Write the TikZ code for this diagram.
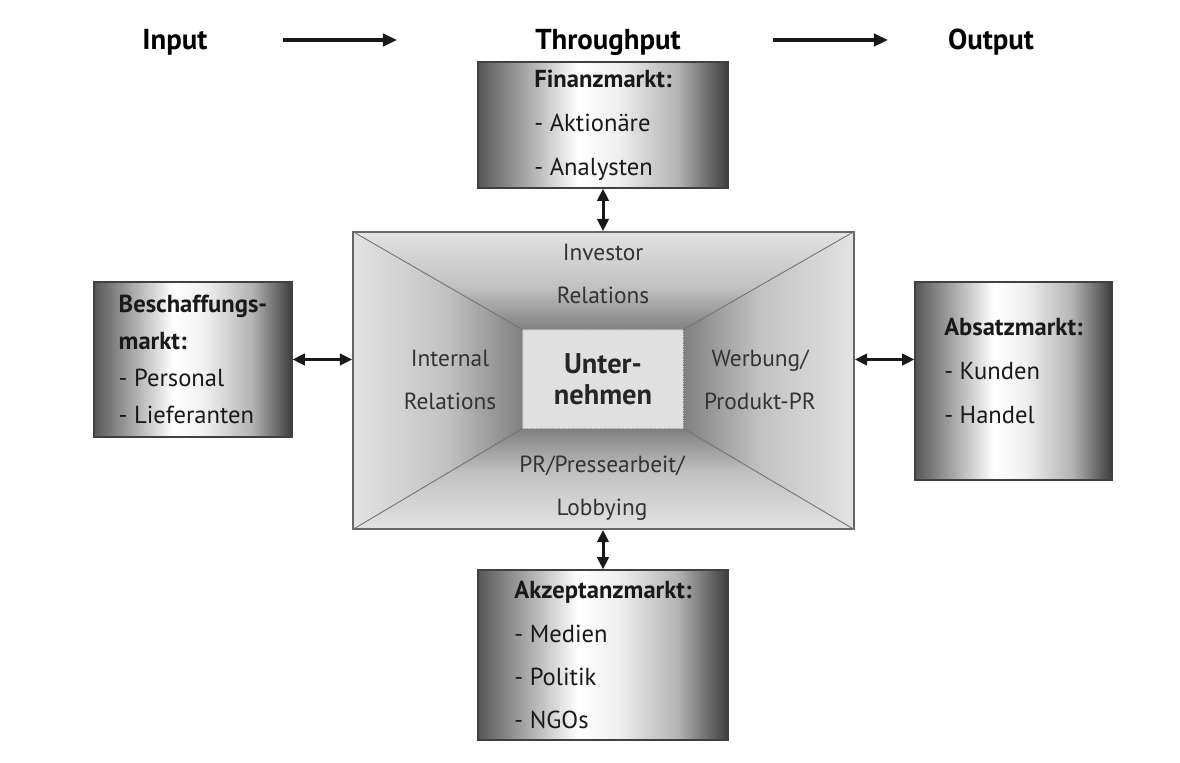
\documentclass[tikz,border=0pt]{standalone}
\usepackage{fontspec}
\setmainfont{PT Sans}
\usetikzlibrary{arrows.meta,backgrounds}
\colorlet{mkL}{black!66}
\colorlet{mkR}{black!76}
\colorlet{mkM}{black!30}
\colorlet{wDark}{black!50}
\colorlet{wMid}{black!24}
\colorlet{wLight}{black!11}
\pgfdeclarehorizontalshading{marketshade}{100bp}{color(0bp)=(mkL); color(25bp)=(mkL); color(45bp)=(white); color(53bp)=(white!94!black); color(65bp)=(mkM); color(75bp)=(mkR); color(100bp)=(mkR)}
\pgfdeclareverticalshading{wallT}{100bp}{color(0bp)=(wDark); color(25bp)=(wDark); color(47bp)=(wMid); color(75bp)=(wLight); color(100bp)=(wLight)}
\pgfdeclareverticalshading{wallB}{100bp}{color(0bp)=(wLight); color(25bp)=(wLight); color(53bp)=(wMid); color(75bp)=(wDark); color(100bp)=(wDark)}
\pgfdeclarehorizontalshading{wallL}{100bp}{color(0bp)=(wLight); color(25bp)=(wLight); color(53bp)=(wMid); color(75bp)=(wDark); color(100bp)=(wDark)}
\pgfdeclarehorizontalshading{wallR}{100bp}{color(0bp)=(wDark); color(25bp)=(wDark); color(47bp)=(wMid); color(75bp)=(wLight); color(100bp)=(wLight)}
\tikzset{
  marketS/.style={draw=black!75, line width=0.7pt, shading=marketshade, align=left, text=black!90, font=\fontsize{14}{25}\selectfont},
  firmS/.style  ={draw=black!60, line width=1pt, minimum width=10.02cm, minimum height=5.94cm},
  coreS/.style  ={draw=white!80!black, densely dotted, fill=black!12, minimum width=3.2cm, minimum height=1.96cm, align=center, text=black!85, font=\bfseries\fontsize{16.2}{17.5}\selectfont},
  diagS/.style  ={draw=black!55, line width=0.5pt},
  areaS/.style  ={align=center, text=black!80, font=\fontsize{13.3}{24.5}\selectfont},
  headS/.style  ={font=\bfseries\fontsize{16.4}{18}\selectfont},
  linkS/.style  ={{Triangle[length=7pt,width=6.5pt]}-{Triangle[length=7pt,width=6.5pt]}, line width=1.7pt, black!90},
  flowS/.style  ={-{Triangle[length=8pt,width=7pt]}, line width=2pt, black!90},
}
\begin{document}
\begin{tikzpicture}[x=0.02cm, y=-0.02cm]
  \useasboundingbox (0,0) rectangle (1180,762);
  % input - throughput - output
  \node[headS] (input) at (175,42) {Input};
  \node[headS] (through) at (608,42) {Throughput};
  \node[headS] (output) at (991,42) {Output};
  \coordinate (f1s) at (283,40); \coordinate (f1e) at (397,40);
  \coordinate (f2s) at (773,40); \coordinate (f2e) at (888,40);
  \draw[flowS] (f1s) -- (f1e);
  \draw[flowS] (f2s) -- (f2e);
  % markets
  \node[marketS, minimum width=5cm, minimum height=2.52cm] (fin) at (603,125)
    {\textbf{Finanzmarkt:}\\- Aktionäre\\- Analysten};
  \node[marketS, minimum width=3.96cm, minimum height=3.1cm, font=\fontsize{14}{21}\selectfont] (besch) at (193,359.5)
    {\textbf{Beschaffungs-}\\\textbf{markt:}\\- Personal\\- Lieferanten};
  \node[marketS, minimum width=3.94cm, minimum height=3.96cm, font=\fontsize{14}{25}\selectfont] (absatz) at (1013.5,381)
    {\textbf{Absatzmarkt:}\\- Kunden\\- Handel\\[-13pt]\mbox{}};
  \node[marketS, minimum width=5cm, minimum height=3.4cm, font=\fontsize{14}{24.5}\selectfont] (akz) at (603,655)
    {\textbf{Akzeptanzmarkt:}\\- Medien\\- Politik\\- NGOs};
  % company
  \node[firmS] (firm) at (603.5,380.5) {};
  \node[coreS] (core) at (603,379) {Unter-\\nehmen};
  \begin{scope}[on background layer]
    \shade[shading=wallT] (firm.north west) -- (firm.north east) -- (core.north east) -- (core.north west) -- cycle;
    \shade[shading=wallB] (firm.south west) -- (firm.south east) -- (core.south east) -- (core.south west) -- cycle;
    \shade[shading=wallL] (firm.north west) -- (core.north west) -- (core.south west) -- (firm.south west) -- cycle;
    \shade[shading=wallR] (firm.north east) -- (core.north east) -- (core.south east) -- (firm.south east) -- cycle;
  \end{scope}
  \draw[diagS] (firm.north west) -- (core.north west);
  \draw[diagS] (firm.north east) -- (core.north east);
  \draw[diagS] (firm.south west) -- (core.south west);
  \draw[diagS] (firm.south east) -- (core.south east);
  \node[areaS] (ir) at (603,274) {Investor\\Relations};
  \node[areaS] (intr) at (450,380) {Internal\\Relations};
  \node[areaS] (werb) at (760,380) {Werbung/\\Produkt-PR};
  \node[areaS] (press) at (602,488) {PR/Pressearbeit/\\Lobbying};
  % links
  \draw[linkS] (fin.south) -- (fin.south |- firm.north);
  \draw[linkS] (akz.north) -- (akz.north |- firm.south);
  \draw[linkS] (besch.east) -- (besch.east -| firm.west);
  \draw[linkS] (firm.east |- besch.east) -- (absatz.west |- besch.east);
\end{tikzpicture}
\end{document}
